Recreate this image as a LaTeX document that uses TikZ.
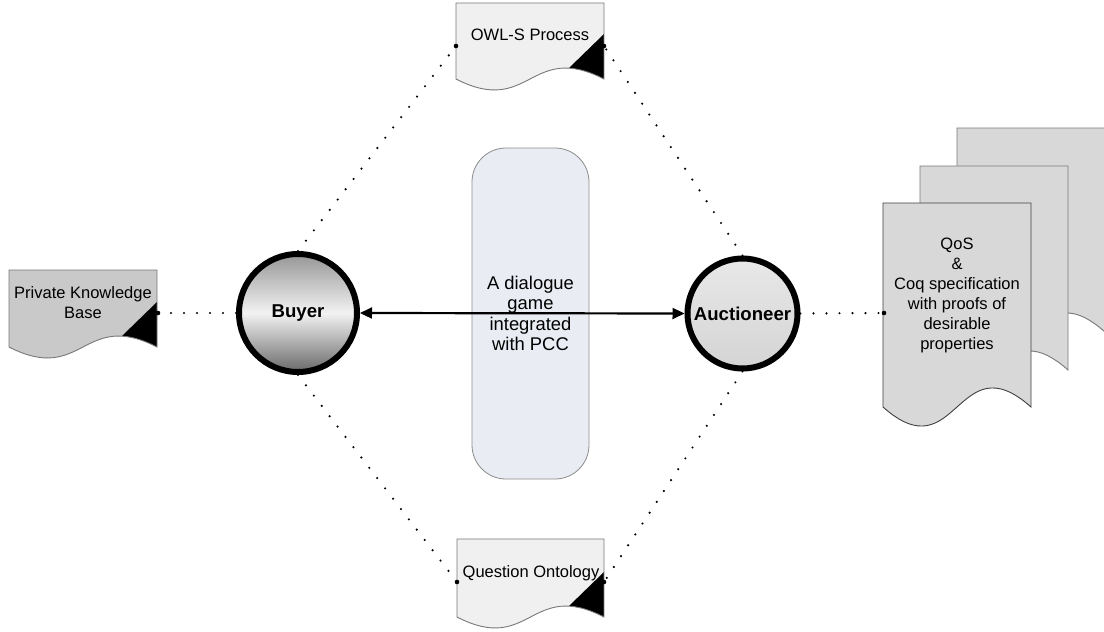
\documentclass[tikz,border=0pt]{standalone}
\usepackage{fontspec}
\setmainfont{Liberation Sans}
\usetikzlibrary{arrows.meta}

\definecolor{paperlight}{RGB}{240,240,240}
\definecolor{papermid}{RGB}{201,201,201}
\definecolor{paperstack}{RGB}{216,216,216}
\definecolor{paperedge}{RGB}{120,120,120}
\definecolor{gamefill}{RGB}{233,237,243}
\definecolor{gameedge}{RGB}{140,140,140}

% outline of a document sheet with a wavy lower edge
% #1 left, #2 right, #3 top, #4 bottom, #5 wave depth
\newcommand\sheetpath[5]{(#1,#3) -- (#2,#3) -- (#2,#4)
  .. controls ({(#1+#2)/2},{#4-#5}) and ({(#1+#2)/2},{#4+#5}) .. (#1,#4) -- cycle}

% sheet with a black corner flag at its lower right
\newcommand\flagsheet[6]{%
  \fill[#6] \sheetpath{#1}{#2}{#3}{#4}{#5};
  \begin{scope}
    \clip \sheetpath{#1}{#2}{#3}{#4}{#5};
    \fill[black] (#2,{#4-45}) -- ({#2-35},{#4-11}) -- ({#2-35},{#4+30}) -- (#2,{#4+30}) -- cycle;
  \end{scope}
  \draw[paperedge, line width=0.9pt] \sheetpath{#1}{#2}{#3}{#4}{#5};
}

\tikzset{
  doctext/.style={align=center, inner sep=0pt, font=\fontsize{16.5}{20}\selectfont},
  agent/.style={circle, draw=black, line width=6pt, inner sep=0pt,
    font=\fontsize{18.6}{22}\selectfont\bfseries},
  dotline/.style={line width=2.4pt, line cap=round, dash pattern=on 0pt off 13pt, black},
  endpoint/.style={black},
}

\begin{document}
\begin{tikzpicture}[x=1pt, y=-1pt]
  \useasboundingbox (0,0) rectangle (1104,632);
  \fill[white] (0,0) rectangle (1104,632);

  % stacked specification sheets (back to front)
  \fill[paperstack] \sheetpath{957}{1105}{128}{332}{66};
  \draw[paperedge, line width=0.9pt] \sheetpath{957}{1105}{128}{332}{66};
  \fill[paperstack] \sheetpath{920}{1068}{166}{370}{66};
  \draw[paperedge, line width=0.9pt] \sheetpath{920}{1068}{166}{370}{66};
  \fill[paperstack] \sheetpath{883}{1031}{203}{407}{66};
  \draw[black!75, line width=0.9pt] \sheetpath{883}{1031}{203}{407}{66};

  % flagged sheets
  \flagsheet{456}{604}{3}{79}{38}{paperlight}
  \flagsheet{9}{157}{270}{347}{38}{papermid}
  \flagsheet{457}{604}{539}{617}{38}{paperlight}

  % sheet labels
  \node[doctext] (owltext) at (530,35) {OWL-S Process};
  \node[doctext] (pkbtext) at (83,303) {Private Knowledge\\Base};
  \node[doctext] (qtext) at (531,573) {Question Ontology};
  \node[doctext] (qostext) at (957,295.5) {QoS\\\&\\Coq specification\\with proofs of\\desirable\\properties};

  % connection points on the sheets
  \coordinate (owlW) at (456,46);
  \coordinate (owlE) at (604,46);
  \coordinate (pkbE) at (158,313);
  \coordinate (qW) at (457,582);
  \coordinate (qE) at (604,582);
  \coordinate (qosW) at (884,313);

  % dialogue game
  \node[draw=gameedge, fill=gamefill, line width=0.8pt, rounded corners=34pt,
        minimum width=117pt, minimum height=331pt, align=center,
        font=\fontsize{18.4}{20.6}\selectfont] (game) at (530.5,313.5)
        {A dialogue\\game\\integrated\\with PCC};

  % agents
  \node[agent, minimum size=118pt, top color={rgb,255:red,150;green,150;blue,150},
        bottom color={rgb,255:red,105;green,105;blue,105},
        middle color={rgb,255:red,242;green,242;blue,242}] (buyer) at (298,313) {Buyer};
  \node[agent, minimum size=110pt, top color={rgb,255:red,232;green,232;blue,232},
        bottom color={rgb,255:red,212;green,212;blue,212}] (auct) at (742.5,313.5) {Auctioneer};

  % message exchange
  \draw[line width=2.2pt, {Triangle[length=12pt,width=11pt]}-{Triangle[length=12pt,width=11pt]}]
    (buyer.east) -- (auct.west);

  % dotted associations
  \draw[dotline] (buyer.north) -- (owlW);
  \draw[dotline] (auct.north) -- (owlE);
  \draw[dotline] (buyer.south) -- (qW);
  \draw[dotline] (auct.south) -- (qE);
  \draw[dotline] (pkbE) -- (buyer.west);
  \draw[dotline] (auct.east) -- (qosW);

  \foreach \p in {owlW,owlE,pkbE,qW,qE,qosW}
    \fill[endpoint] (\p) circle (2.3pt);
\end{tikzpicture}
\end{document}
